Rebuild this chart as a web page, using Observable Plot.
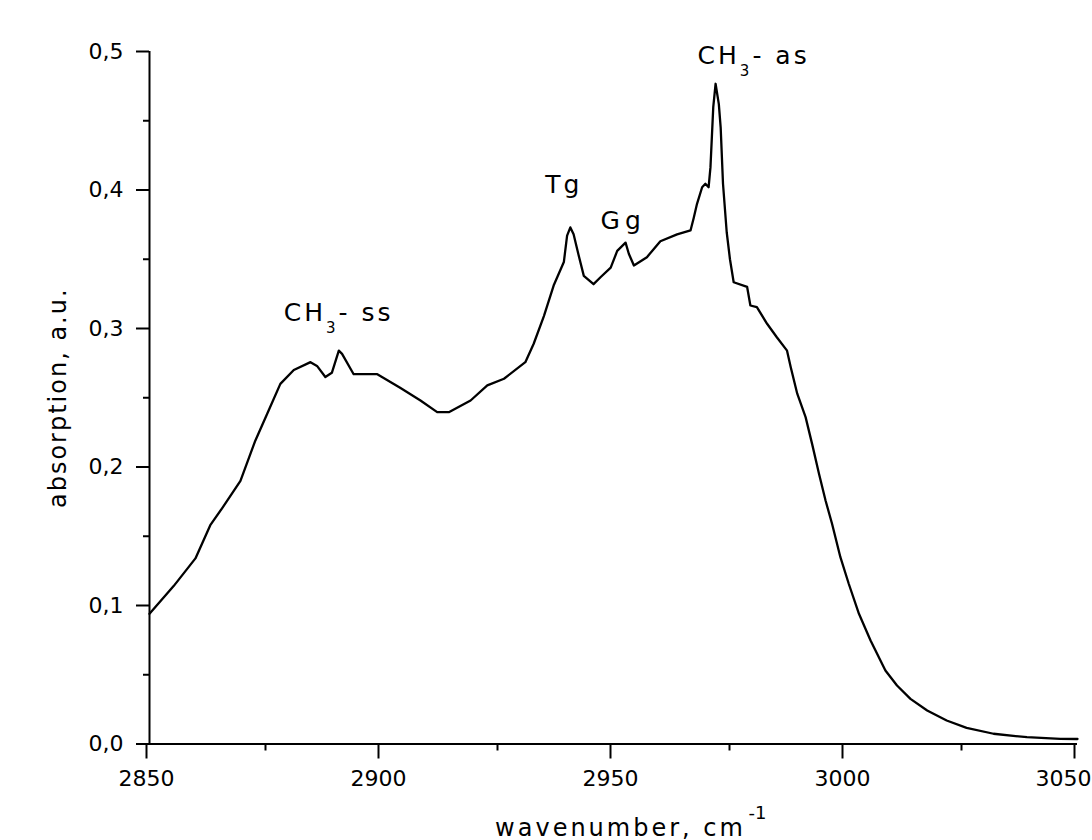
<!DOCTYPE html>
<html>
<head>
<meta charset="utf-8">
<script src="https://cdn.jsdelivr.net/npm/d3@7"></script>
<script src="https://cdn.jsdelivr.net/npm/@observablehq/plot@0.6"></script>
<style>
html, body { margin: 0; padding: 0; background: #fff; overflow: hidden; }
#chart svg { overflow: visible; }
</style>
</head>
<body>
<div id="chart"></div>
<script>
// ---- data ----
const wavenumber = [
  2850, 2855.2, 2859.9, 2863.1, 2865.6, 2869.6, 2872.8, 2875.7, 2878.2, 2881.1,
  2884.7, 2886.1, 2887.9, 2889.3, 2890.8, 2891.5, 2894.0, 2899.1, 2904.1, 2908.4,
  2912.0, 2914.5, 2919.2, 2922.8, 2926.4, 2931.0, 2932.8, 2935.0, 2937.1, 2939.3,
  2940.0, 2940.7, 2941.4, 2942.5, 2943.6, 2945.7, 2947.2, 2949.4, 2950.8, 2952.6,
  2953.3, 2954.4, 2957.2, 2960.1, 2963.7, 2966.6, 2967.3, 2968.0, 2969.1, 2969.8,
  2970.5, 2970.9, 2971.5, 2972.0, 2972.7, 2973.1, 2973.6, 2974.4, 2975.1, 2975.9,
  2978.8, 2979.5, 2980.9, 2983.1, 2985.2, 2987.4, 2988.2, 2989.6, 2991.4, 2992.8,
  2994.3, 2995.7, 2997.1, 2998.9, 3000.7, 3002.9, 3005.4, 3008.6, 3011.1, 3014.0,
  3017.6, 3021.8, 3026.1, 3031.9, 3039.1, 3046.3, 3050
];
const absorption = [
  0.094, 0.114, 0.134, 0.158, 0.170, 0.190, 0.219, 0.241, 0.260, 0.270,
  0.2757, 0.273, 0.265, 0.268, 0.284, 0.2817, 0.267, 0.267, 0.257, 0.248,
  0.2396, 0.2396, 0.248, 0.2589, 0.2637, 0.2757, 0.289, 0.309, 0.331, 0.348,
  0.367, 0.373, 0.368, 0.3527, 0.338, 0.332, 0.337, 0.344, 0.356, 0.362,
  0.354, 0.3455, 0.3515, 0.363, 0.368, 0.3708, 0.380, 0.390, 0.402, 0.4045,
  0.402, 0.4165, 0.4598, 0.4767, 0.462, 0.445, 0.4045, 0.3695, 0.350, 0.3334,
  0.330, 0.3166, 0.3154, 0.3034, 0.2937, 0.284, 0.272, 0.2529, 0.236, 0.2167,
  0.195, 0.1758, 0.159, 0.1349, 0.1157, 0.094, 0.0747, 0.0531, 0.0422, 0.0326,
  0.0242, 0.017, 0.0117, 0.0074, 0.0049, 0.0037, 0.0036
];
const xTicks = [2850, 2900, 2950, 3000, 3050];
const xTickLabels = ["2850", "2900", "2950", "3000", "3050"];
const xMinorTicks = [2875, 2925, 2975, 3025];
const yTicks = [0, 0.1, 0.2, 0.3, 0.4, 0.5];
const yTickLabels = ["0,0", "0,1", "0,2", "0,3", "0,4", "0,5"];
const yMinorTicks = [0.05, 0.15, 0.25, 0.35, 0.45];
const peakLabels = ["CH3- ss", "Tg", "Gg", "CH3- as"];
const peakWavenumber = [2890.8, 2940.7, 2952.6, 2972.0];
const peakAbsorption = [0.284, 0.373, 0.362, 0.4767];
const xLabel = "wavenumber, cm";
const xLabelSup = "-1";
const yLabel = "absorption, a.u.";

// ---- build tables ----
const spectrum = wavenumber.map((w, i) => ({w, a: absorption[i]}));
const peaks = peakLabels.map((label, i) => ({label, w: peakWavenumber[i], a: peakAbsorption[i]}));

const W = 1092, H = 840;
const mL = 149, mR = 15, mT = 51, mB = 96.5;
const frameCx = mL + (W - mL - mR) / 2;
const frameBottom = H - mB;

function peakText(i, dx, dy) {
  return Plot.text([peaks[i]], {
    x: "w", y: "a", text: "label",
    textAnchor: "start", lineAnchor: "bottom",
    dx, dy, fontSize: 25
  });
}
const xFmt = d => xTickLabels[xTicks.indexOf(d)];
const lastX = xTicks[xTicks.length - 1];

const chart = Plot.plot({
  width: W, height: H,
  marginLeft: mL, marginRight: mR, marginTop: mT, marginBottom: mB,
  style: {fontFamily: "'DejaVu Sans', sans-serif", fontSize: "22px", color: "#000", background: "#fff"},
  x: {domain: [2850, 3050], label: null},
  y: {domain: [0, 0.5], label: null},
  marks: [
    Plot.axisX(xTicks, {tickSize: 15, tickPadding: 11.5, strokeWidth: 2, fontSize: 22, dx: -3,
      tickFormat: d => (d === lastX ? null : xFmt(d)), label: null}),
    // last tick label kept inside the page's right edge
    Plot.text([lastX], {x: d => d, text: xFmt, frameAnchor: "bottom", textAnchor: "end", lineAnchor: "top",
      dx: 14, dy: 26.5, fontSize: 22}),
    Plot.axisX(xMinorTicks, {tickSize: 7, strokeWidth: 2, tickFormat: () => null, label: null}),
    Plot.axisY(yTicks, {tickSize: 13, tickPadding: 13, strokeWidth: 2, fontSize: 22,
      tickFormat: d => yTickLabels[yTicks.indexOf(d)], label: null}),
    Plot.axisY(yMinorTicks, {tickSize: 6, strokeWidth: 2, tickFormat: () => null, label: null}),
    Plot.ruleY([0], {strokeWidth: 2}),
    Plot.ruleX([2850], {strokeWidth: 2}),
    Plot.line(spectrum, {x: "w", y: "a", stroke: "#000", strokeWidth: 2.3}),
    peakText(0, -55, -30),
    peakText(1, -25, -34),
    peakText(2, -25, -14),
    peakText(3, -18, -20),
    Plot.text([xLabel], {text: d => d, frameAnchor: "bottom", textAnchor: "middle", lineAnchor: "bottom",
      dx: 620 - frameCx, dy: 835 - frameBottom, fontSize: 24}),
    Plot.text([xLabelSup], {text: d => d, frameAnchor: "bottom", textAnchor: "start", lineAnchor: "bottom",
      dx: 748 - frameCx, dy: 818 - frameBottom, fontSize: 18}),
    Plot.text([yLabel], {text: d => d, frameAnchor: "left", rotate: -90, textAnchor: "middle", lineAnchor: "bottom",
      dx: 65 - mL, fontSize: 24})
  ]
});

// ---- text styling: letter spacing and subscripts ----
d3.select(chart).selectAll("text").each(function () {
  const t = this.textContent;
  const sel = d3.select(this);
  if (t === xLabel) sel.attr("letter-spacing", 3);
  else if (t === yLabel) sel.attr("letter-spacing", 2);
  else if (t === "Tg") sel.attr("letter-spacing", 3);
  else if (t === "Gg") sel.attr("letter-spacing", 5);
  else if (t.startsWith("CH3")) {
    const rest = t.slice(3);
    sel.attr("letter-spacing", 3).text(null);
    sel.append("tspan").text("CH");
    sel.append("tspan").attr("dy", 12).attr("font-size", 15).text("3");
    sel.append("tspan").attr("dy", -12).text(rest);
  }
});

document.getElementById("chart").appendChild(chart);
</script>
</body>
</html>
